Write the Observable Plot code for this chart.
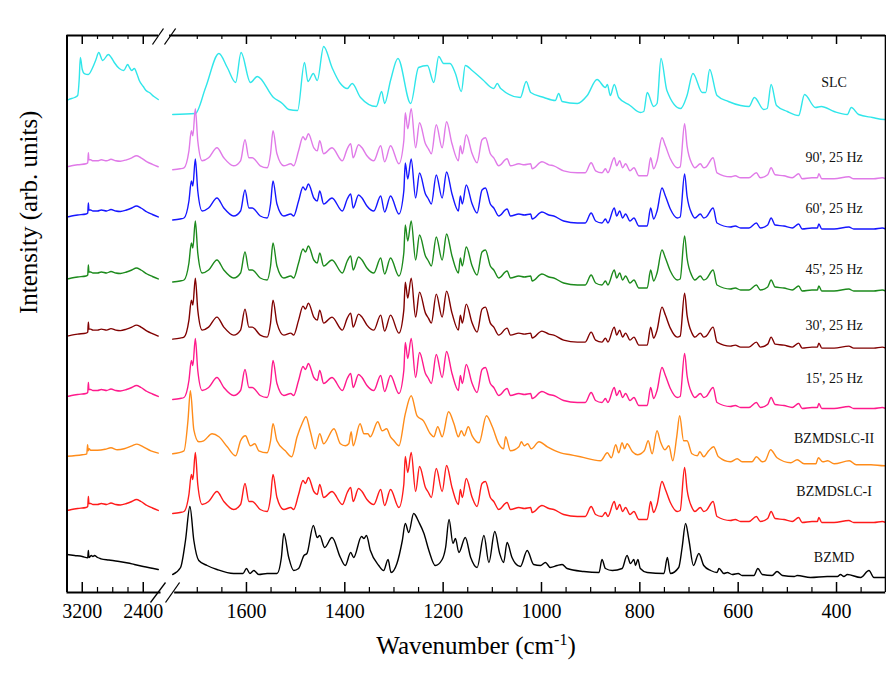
<!DOCTYPE html>
<html><head><meta charset="utf-8">
<script src="https://cdn.jsdelivr.net/npm/d3@7"></script>
<script src="https://cdn.jsdelivr.net/npm/@observablehq/plot@0.6"></script>
<style>body{margin:0;background:#fff}#chart{width:886px;height:688px}#chart svg text{font-family:'Liberation Serif','Times New Roman',serif}</style>
</head><body><div id="chart"></div>
<script>
// ---------- data ----------
const seriesNames = ["SLC", "90', 25 Hz", "60', 25 Hz", "45', 25 Hz", "30', 25 Hz", "15', 25 Hz", "BZMDSLC-II", "BZMDSLC-I", "BZMD"];
const seriesColors = ["#30e6ea", "#e07ae8", "#1616ff", "#1c8a1c", "#800000", "#ff1a8c", "#ff8c1a", "#ff1a1a", "#000000"];
const seriesOffsets = [478, 422.7, 372.5, 310.5, 253.4, 193, 138.7, 79, 18];
const labelLevels = [510, 435, 384, 323, 267, 214, 154, 101, 35];
const labelWavenumber = 405;

// [wavenumber, intensity above the series start level]
const slcLeft = [[3400,14],[3378,15],[3300,17],[3260,19],[3240,35],[3225,57],[3200,45],[3173,41],[3121,40],[3063,47],[3020,55],[2984,62],[2932,54],[2858,60],[2820,57],[2780,52],[2714,46],[2656,44],[2604,50],[2580,47],[2552,44],[2517,46],[2480,40],[2452,34],[2400,28],[2364,24],[2320,22],[2260,18],[2203,15]];
const slcRight = [[1750,0],[1704,1],[1683,27],[1656,61],[1639,47],[1622,32],[1611,62],[1592,32],[1578,38],[1545,17],[1527,11],[1514,5],[1496,4],[1482,52],[1475,33],[1464,41],[1456,34],[1443,68],[1426,47],[1409,31],[1395,26],[1385,31],[1368,17],[1336,8],[1325,23],[1319,11],[1307,34],[1292,56],[1266,11],[1250,47],[1232,49],[1219,32],[1209,58],[1199,51],[1186,51],[1175,41],[1163,23],[1155,49],[1141,44],[1120,35],[1097,26],[1090,31],[1083,26],[1043,17],[1031,33],[1022,22],[995,17],[972,14],[965,21],[958,13],[927,11],[907,19],[887,35],[870,27],[866,30],[860,19],[852,30],[843,17],[820,9],[799,2],[792,3],[785,22],[772,8],[765,11],[757,56],[745,24],[717,6],[704,19],[692,41],[673,22],[666,22],[658,45],[643,19],[620,13],[595,9],[578,8],[567,17],[548,5],[541,6],[533,30],[522,9],[500,3],[477,-1],[465,20],[443,7],[431,8],[405,3],[378,0],[370,7],[355,0],[327,-3],[303,-5],[300,-5]];

const milledLeft = [[3400,3],[3340,4],[3260,5],[3150,6],[3128,7],[3120,17],[3112,10],[3090,10],[3060,9],[3000,9],[2950,10],[2880,9],[2823,10.5],[2760,9],[2700,8.5],[2620,10],[2550,12],[2490,14],[2430,12],[2350,8],[2280,5.5],[2203,3]];
const milledRight = [[1750,0],[1735,1],[1727,2],[1717,19],[1712,39],[1709,34],[1704,61],[1699,29],[1690,9],[1677,12],[1660,22],[1646,12],[1626,4],[1612,9],[1603,30],[1595,12],[1588,12],[1572,4],[1558,2],[1551,16],[1546,39],[1538,16],[1524,4],[1510,6],[1504,4],[1494,19],[1485,33],[1480,30],[1474,36],[1463,22],[1456,19],[1451,29],[1443,16],[1426,22],[1405,9],[1395,21],[1388,26],[1383,12],[1372,25],[1365,22],[1355,14],[1341,9],[1327,24],[1319,8],[1307,24],[1290,6],[1280,29],[1277,57],[1272,41],[1265,61],[1256,22],[1248,47],[1236,26],[1230,21],[1224,16],[1214,45],[1202,22],[1193,48],[1182,26],[1169,9],[1165,24],[1161,16],[1153,35],[1141,16],[1131,7],[1121,30],[1114,32],[1104,16],[1097,12],[1087,4],[1070,11],[1063,4],[1046,6],[1035,5],[1022,6],[1019,1],[999,8],[985,5],[975,4],[955,-1],[927,-3],[911,-3],[899,7],[890,-1],[877,-3],[870,1],[865,-3],[852,12],[847,4],[841,9],[835,2],[829,6],[820,-1],[812,2],[802,-6],[785,-6],[778,12],[772,1],[765,9],[755,32],[748,24],[738,11],[724,2],[718,3],[709,46],[704,24],[694,6],[688,2],[677,6],[670,2],[665,3],[651,12],[643,-3],[616,-7],[606,-6],[595,-8],[578,-8],[563,-3],[555,-8],[540,-5],[533,2],[525,-5],[507,-6],[490,-8],[477,-4],[470,-9],[450,-8],[439,-8],[436,-4],[430,-9],[405,-9],[375,-7],[365,-9],[324,-9],[307,-8],[300,-9]];

const bzmdslc2Left = [[3400,-2.5],[3200,-1],[3140,0],[3130,9],[3122,3],[3110,5],[3090,3.6],[3000,3.6],[2900,4.5],[2823,6],[2740,4],[2650,5],[2550,8],[2482,9.7],[2400,7],[2300,3],[2203,0.7]];
const bzmdslc2Right = [[1750,0],[1727,3],[1719,33],[1714,63],[1707,24],[1697,12],[1687,13],[1670,20],[1656,17],[1639,7],[1622,-2],[1612,13],[1602,18],[1592,8],[1583,10],[1575,3],[1558,1],[1551,13],[1546,30],[1538,13],[1521,3],[1508,-3],[1497,17],[1487,30],[1479,37],[1470,22],[1460,5],[1451,20],[1443,10],[1422,25],[1409,10],[1399,8],[1392,10],[1387,22],[1383,8],[1369,30],[1361,20],[1353,20],[1348,17],[1333,32],[1324,23],[1315,25],[1307,17],[1300,13],[1290,8],[1277,40],[1265,58],[1253,38],[1240,33],[1226,20],[1219,17],[1211,27],[1202,17],[1189,42],[1178,30],[1169,17],[1163,23],[1157,18],[1149,27],[1141,18],[1127,11],[1112,38],[1100,27],[1087,10],[1077,5],[1073,17],[1063,3],[1046,7],[1041,12],[1035,8],[1028,10],[1021,5],[1005,12],[988,7],[961,1],[941,-1],[921,-3],[880,-7],[866,1],[858,-4],[849,9],[843,1],[836,11],[831,5],[826,10],[815,2],[805,-1],[791,3],[783,13],[775,0],[765,23],[758,12],[749,4],[741,8],[733,-7],[725,17],[719,38],[711,13],[704,13],[694,0],[683,-2],[678,2],[670,-3],[660,3],[650,7],[640,-3],[616,-8],[602,-5],[592,-8],[572,-8],[563,-3],[551,-8],[545,-7],[534,4],[521,-4],[493,-9],[480,-6],[466,-10],[442,-10],[437,-4],[428,-8],[418,-7],[405,-10],[374,-7],[360,-11],[330,-11],[303,-12],[300,-12]];

const bzmdLeft = [[3400,20],[3300,19],[3200,18],[3128,16.7],[3120,24],[3112,17],[3080,19],[3060,18],[3040,19],[3000,17],[2954,15.7],[2850,14.5],[2735,13.3],[2600,11.5],[2517,10],[2400,8],[2203,5]];
const bzmdRight = [[1750,0],[1734,7],[1724,34],[1715,68],[1707,34],[1697,14],[1680,9],[1660,5],[1626,1],[1607,1],[1600,6],[1593,1],[1585,4],[1575,0],[1558,1],[1538,1],[1529,17],[1524,41],[1514,17],[1504,4],[1494,6],[1483,19],[1477,21],[1464,49],[1456,37],[1451,39],[1441,27],[1426,37],[1409,17],[1399,9],[1388,22],[1382,17],[1366,38],[1361,36],[1356,39],[1348,24],[1331,9],[1321,4],[1312,15],[1306,2],[1294,11],[1283,34],[1277,51],[1270,42],[1260,61],[1249,52],[1239,41],[1229,24],[1216,9],[1202,15],[1195,27],[1188,55],[1180,31],[1175,36],[1168,22],[1155,37],[1144,17],[1131,7],[1117,39],[1107,12],[1095,43],[1085,21],[1077,12],[1070,32],[1060,17],[1053,11],[1043,8],[1029,24],[1016,10],[1002,9],[992,12],[982,7],[968,9],[958,10],[948,6],[914,3],[883,2],[877,15],[870,6],[856,4],[836,6],[826,19],[819,11],[812,15],[809,9],[804,15],[799,6],[785,2],[751,1],[744,17],[738,1],[721,7],[714,27],[707,51],[700,34],[691,9],[680,21],[670,9],[656,4],[643,2],[639,6],[629,1],[622,2],[612,0],[600,1],[592,-1],[568,-1],[560,6],[551,0],[531,-1],[521,3],[510,-1],[486,-2],[480,-1],[453,-3],[419,-2],[398,-2],[392,0],[385,-2],[378,0],[351,-3],[334,4],[324,-3],[303,-3],[300,-3]];

const seriesProfiles = [
  [slcLeft, slcRight],
  [milledLeft, milledRight], [milledLeft, milledRight], [milledLeft, milledRight],
  [milledLeft, milledRight], [milledLeft, milledRight],
  [bzmdslc2Left, bzmdslc2Right],
  [milledLeft, milledRight],
  [bzmdLeft, bzmdRight]
];

const majorTicks = [3200, 2400, 1600, 1400, 1200, 1000, 800, 600, 400];
const minorTicks = [3000, 2800, 2600, 1700, 1650, 1550, 1500, 1450, 1350, 1300, 1250, 1150, 1100, 1050, 950, 900, 850, 750, 700, 650, 550, 500, 450, 350];
const xBreakDomain = [3400, 2200, 1750, 300];
const yTop = 557;
// frame pieces on either side of the axis break: [from, to] in cm-1
const topFrame = [[3400, 2200], [1850, 300]];
const bottomFrame = [[3400, 2120], [1746, 300]];
// break slashes: [x1, y1, x2, y2]
const breakSlashes = [[2279, 548, 2042, 564], [2010, 548, 1744, 564], [2305, -10, 1978, 10], [1978, -10, 1736, 10]];

// ---------- build table ----------
const rows = [];
seriesNames.forEach((name, i) => {
  seriesProfiles[i].forEach((arr, p) => {
    arr.forEach(([wn, v]) => rows.push({name, key: name + "|" + p, wn, value: seriesOffsets[i] + v}));
  });
});
const labelRows = seriesNames.map((name, i) => ({name, wn: labelWavenumber, level: labelLevels[i]}));
const majorRows = majorTicks.flatMap(t => [{t, y1: 0, y2: 10}, {t, y1: yTop, y2: yTop - 9}]);
const minorRows = minorTicks.flatMap(t => [{t, y1: 0, y2: 5}, {t, y1: yTop, y2: yTop - 4}]);
const hFrame = [
  ...topFrame.map(([a, b]) => ({x1: a, x2: b, y: yTop})),
  ...bottomFrame.map(([a, b]) => ({x1: a, x2: b, y: 0}))
];
const slashRows = breakSlashes.map(([x1, y1, x2, y2]) => ({x1, y1, x2, y2}));

const serif = "Liberation Serif";
const chart = Plot.plot({
  width: 886, height: 688,
  marginLeft: 66, marginRight: 1, marginTop: 35, marginBottom: 96,
  style: {fontFamily: serif, background: "#fff", color: "#000"},
  x: {type: "linear", domain: xBreakDomain, range: [66.5, 158, 172.2, 885.2]},
  y: {domain: [0, yTop], axis: null},
  color: {domain: seriesNames, range: seriesColors},
  marks: [
    Plot.line(rows, {x: "wn", y: "value", z: "key", stroke: "name", strokeWidth: 1.4, curve: "monotone-x"}),
    Plot.ruleX([xBreakDomain[0], xBreakDomain[3]], {y1: 0, y2: yTop, stroke: "#000", strokeWidth: 2}),
    Plot.ruleY(hFrame, {x1: "x1", x2: "x2", y: "y", stroke: "#000", strokeWidth: 2}),
    Plot.ruleX(majorRows, {x: "t", y1: "y1", y2: "y2", stroke: "#000", strokeWidth: 1.5}),
    Plot.ruleX(minorRows, {x: "t", y1: "y1", y2: "y2", stroke: "#000", strokeWidth: 1.2}),
    Plot.link(slashRows, {x1: "x1", y1: "y1", x2: "x2", y2: "y2", stroke: "#000", strokeWidth: 1.3}),
    Plot.axisX(majorTicks, {tickSize: 0, tickPadding: 11, fontSize: 20, fontFamily: serif, tickFormat: d => String(d), label: null}),
    Plot.text(labelRows, {x: "wn", y: "level", text: "name", fontSize: 14, fontFamily: serif, textAnchor: "middle", fill: "#111"}),
    Plot.text(["Wavenumber (cm-1)"], {frameAnchor: "bottom", dy: 61, fontSize: 25, fontFamily: serif, fill: "#000"}),
    Plot.text(["Intensity (arb. units)"], {frameAnchor: "left", dx: -38, rotate: -90, fontSize: 25, fontFamily: serif, fill: "#000"})
  ]
});
const ns = "http://www.w3.org/2000/svg";
for (const t of chart.querySelectorAll("text")) {
  if (t.textContent === "Wavenumber (cm-1)") {
    t.textContent = "Wavenumber (cm";
    const sup = document.createElementNS(ns, "tspan");
    sup.setAttribute("dy", "-9"); sup.setAttribute("font-size", "16"); sup.textContent = "-1";
    const close = document.createElementNS(ns, "tspan");
    close.setAttribute("dy", "9"); close.textContent = ")";
    t.appendChild(sup); t.appendChild(close);
  }
}
document.getElementById("chart").appendChild(chart);
</script></body></html>
